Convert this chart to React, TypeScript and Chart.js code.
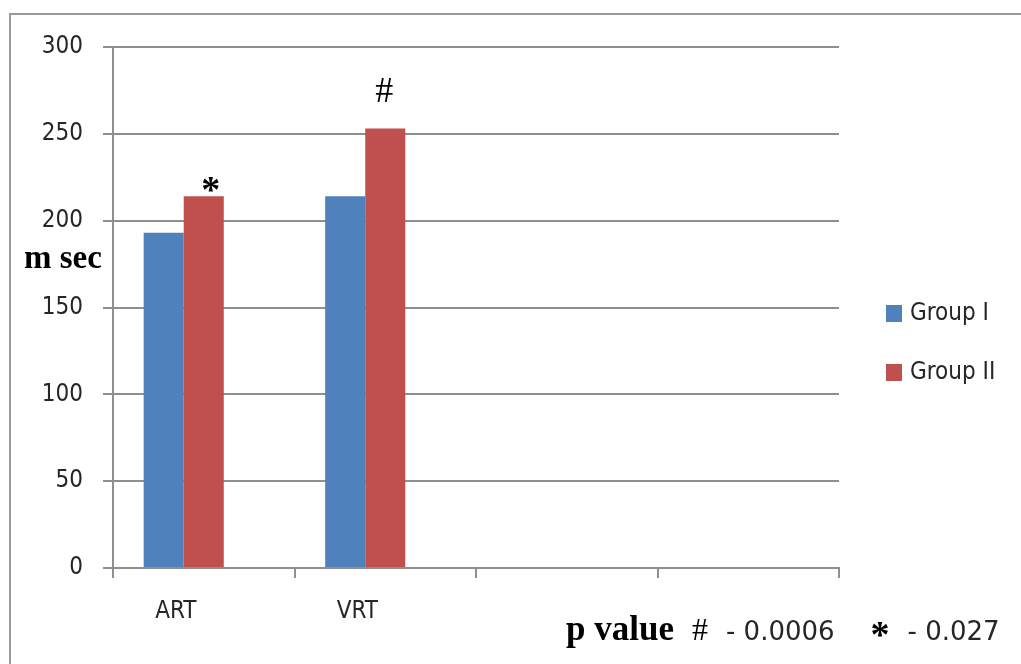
import React, { useEffect, useRef } from "react";
import { Chart, registerables } from "chart.js";

Chart.register(...registerables);

const categories = ["ART", "VRT", "", ""];
const groupI = [193, 214, null, null];
const groupII = [214, 253, null, null];
const spacer = [null, null, null, null];
const groupIIMarks = ["*", "#", "", ""];
const markLevels = [221, 275, null, null];
const yTicks = { min: 0, max: 300, step: 50 };
const yTitle = "m sec";
const footLabel = "p value";
const footParts = [
  { mark: "#", value: "- 0.0006" },
  { mark: "*", value: "- 0.027" },
];

const BLUE = "#4F81BD";
const RED = "#C0504D";
const GRID = "#8f8f8f";
const TEXT = "#262626";
const SANS = "'DejaVu Sans Condensed', 'DejaVu Sans', Verdana, sans-serif";
const SANS_W = "'DejaVu Sans', Verdana, sans-serif";
const SERIF = "'Liberation Serif', 'Times New Roman', serif";

const decorPlugin = {
  id: "decor",
  beforeDraw(chart: any) {
    const ctx = chart.ctx;
    ctx.save();
    ctx.strokeStyle = "#9a9a9a";
    ctx.lineWidth = 2;
    ctx.strokeRect(10, 14, 1200, 900);
    ctx.restore();
  },
  afterDraw(chart: any) {
    const ctx = chart.ctx;
    const yScale = chart.scales.y;
    ctx.save();
    // y title
    ctx.fillStyle = "#000";
    ctx.font = `bold 33px ${SERIF}`;
    ctx.textBaseline = "alphabetic";
    ctx.textAlign = "left";
    ctx.fillText(yTitle, 24, 268);

    // marks above group II bars
    const meta = chart.getDatasetMeta(1);
    meta.data.forEach((bar: any, i: number) => {
      const m = groupIIMarks[i];
      const lvl = markLevels[i];
      if (!m || lvl == null) return;
      const y = yScale.getPixelForValue(lvl);
      ctx.textAlign = "center";
      ctx.textBaseline = "middle";
      if (m === "*") {
        ctx.font = `bold 38px ${SERIF}`;
        ctx.fillText(m, bar.x + 7, y + 8);
      } else {
        ctx.font = `36px ${SERIF}`;
        ctx.fillText(m, bar.x - 1, y + 2);
      }
    });

    // legend
    const items = chart.data.datasets.filter((d: any) => d.label);
    items.forEach((d: any, i: number) => {
      const cy = 313 + i * 59;
      ctx.fillStyle = d.backgroundColor;
      ctx.fillRect(886, cy - 8, 16, 17);
      ctx.fillStyle = TEXT;
      ctx.font = `24px ${SANS}`;
      ctx.textAlign = "left";
      ctx.textBaseline = "middle";
      ctx.fillText(d.label, 910, cy + 1);
    });

    // footnote
    const base = 640;
    ctx.textBaseline = "alphabetic";
    ctx.textAlign = "left";
    ctx.fillStyle = "#000";
    ctx.font = `bold 35px ${SERIF}`;
    ctx.fillText(footLabel, 566, base);
    let x = 566 + ctx.measureText(footLabel).width + 18;
    footParts.forEach((p) => {
      if (p.mark === "*") {
        ctx.font = `bold 38px ${SERIF}`;
        ctx.fillText(p.mark, x, base + 7);
      } else {
        ctx.font = `32px ${SERIF}`;
        ctx.fillText(p.mark, x, base);
      }
      x += ctx.measureText(p.mark).width + 18;
      ctx.font = `26px ${SANS_W}`;
      ctx.fillStyle = TEXT;
      ctx.fillText(p.value, x, base);
      x += ctx.measureText(p.value).width + 36;
      ctx.fillStyle = "#000";
    });
    ctx.restore();
  },
};

export default function App() {
  const ref = useRef<HTMLCanvasElement>(null);
  useEffect(() => {
    if (!ref.current) return;
    const chart = new Chart(ref.current, {
      type: "bar",
      data: {
        labels: categories,
        datasets: [
          { label: "Group I", data: groupI, backgroundColor: BLUE },
          { label: "Group II", data: groupII, backgroundColor: RED },
          { label: "", data: spacer, backgroundColor: "transparent" },
        ],
      },
      options: {
        responsive: false,
        animation: false,
        layout: { padding: { top: 47, right: 182, left: 0, bottom: 0 } },
        datasets: {
          bar: { categoryPercentage: 0.662, barPercentage: 1 },
        },
        plugins: {
          legend: { display: false },
          tooltip: { enabled: false },
        },
        scales: {
          x: {
            afterFit: (s: any) => {
              s.height = 96;
            },
            grid: {
              offset: true,
              drawOnChartArea: false,
              drawTicks: true,
              tickLength: 10,
              color: GRID,
              lineWidth: 2,
            },
            border: { display: true, color: GRID, width: 2 },
            ticks: {
              color: TEXT,
              font: { family: SANS, size: 24 },
              padding: 19,
              labelOffset: -28,
              maxRotation: 0,
              autoSkip: false,
            },
          },
          y: {
            min: yTicks.min,
            max: yTicks.max,
            afterFit: (s: any) => {
              s.width = 113;
            },
            grid: {
              color: GRID,
              lineWidth: 2,
              drawTicks: true,
              tickLength: 10,
            },
            border: { display: true, color: GRID, width: 2 },
            ticks: {
              stepSize: yTicks.step,
              color: TEXT,
              font: { family: SANS, size: 24 },
              padding: 20,
            },
          },
        },
      },
      plugins: [decorPlugin],
    });
    return () => chart.destroy();
  }, []);
  return (
    <div style={{ position: "absolute", left: 0, top: 0, width: 1021, height: 664, background: "#fff" }}>
      <canvas ref={ref} width={1021} height={664} />
    </div>
  );
}
